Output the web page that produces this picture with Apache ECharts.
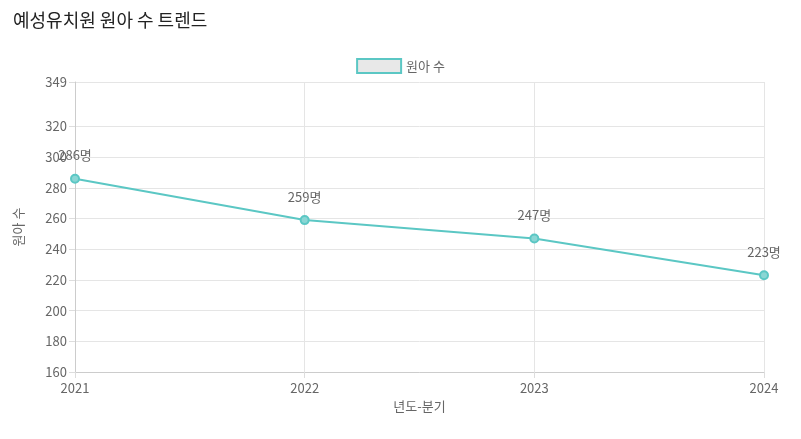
<!DOCTYPE html>
<html><head><meta charset="utf-8">
<script src="https://cdn.jsdelivr.net/npm/echarts@6/dist/echarts.min.js"></script>
<style>body{margin:0}#c{width:801px;height:439px}</style></head>
<body><div id="c"></div>
<script>
const categories=['2021','2022','2023','2024'];
const values=[286,259,247,223];
const yTicks=[160,180,200,220,240,260,280,300,320,349];
const F='"Noto Sans CJK KR", sans-serif';
const chart=echarts.init(document.getElementById('c'));
chart.setOption({
  animation:false,
  title:{text:'예성유치원 원아 수 트렌드',left:8,top:6,textStyle:{fontFamily:F,fontSize:18,fontWeight:'normal',color:'#222'}},
  legend:{top:53,left:'center',itemWidth:44,itemHeight:14,icon:'rect',textStyle:{fontFamily:F,fontSize:13,color:'#666'},data:[{name:'원아 수',itemStyle:{color:'#e8e8e8',borderColor:'#5bc7c4',borderWidth:2}}]},
  grid:{left:75,right:37,top:82,bottom:67},
  xAxis:{type:'category',data:categories,boundaryGap:false,name:'년도-분기',nameLocation:'middle',nameGap:26,
    nameTextStyle:{fontFamily:F,fontSize:13,color:'#666'},
    axisLine:{lineStyle:{color:'#ccc'}},axisTick:{show:true,length:6,lineStyle:{color:'#ddd'}},
    axisLabel:{fontFamily:F,fontSize:13,color:'#666',margin:10},
    splitLine:{show:true,lineStyle:{color:'#e5e5e5'}}},
  yAxis:{type:'value',min:160,max:349,name:'원아 수',nameLocation:'middle',nameGap:50,nameRotate:90,
    nameTextStyle:{fontFamily:F,fontSize:13,color:'#666'},
    axisLine:{show:true,lineStyle:{color:'#ccc'}},
    axisTick:{show:true,length:6,customValues:yTicks,lineStyle:{color:'#ddd'}},
    axisLabel:{fontFamily:F,fontSize:13,color:'#666',customValues:yTicks},
    splitLine:{show:true,lineStyle:{color:'#e5e5e5'}}},
  series:[{name:'원아 수',type:'line',data:values,symbol:'circle',symbolSize:8,
    lineStyle:{color:'#5bc7c4',width:2},itemStyle:{color:'#8ad6d4',borderColor:'#5bc7c4',borderWidth:2},
    label:{show:true,position:'top',distance:12,formatter:p=>p.value+'명',fontFamily:F,fontSize:13,color:'#666'}}]
});
</script></body></html>
